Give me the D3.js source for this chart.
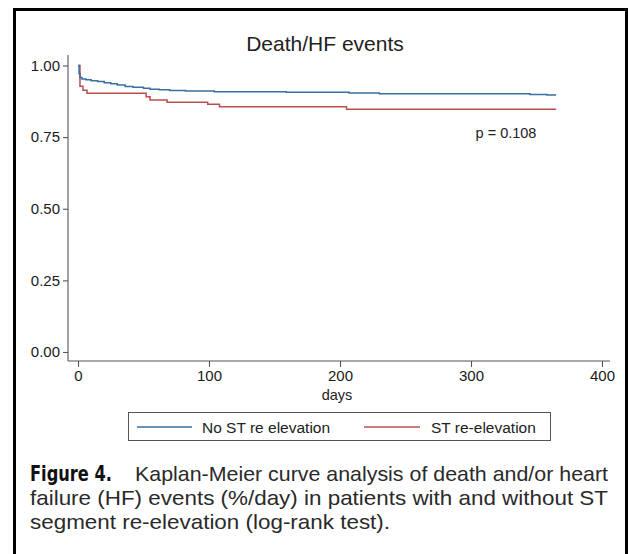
<!DOCTYPE html>
<html>
<head>
<meta charset="utf-8">
<script src="https://cdn.jsdelivr.net/npm/d3@7"></script>
<style>
  body { margin: 0; background: #fff; }
  svg { display: block; }
</style>
</head>
<body>
<div id="body"></div>
<script>
// Kaplan-Meier survival estimates
var blueDays = [0, 0.8, 1.5, 3, 6, 10, 15, 20, 25, 30, 36, 42, 50, 55, 62, 70, 82, 104, 159, 207, 230, 345, 358, 365];
var blueSurv = [1.0, 0.972, 0.958, 0.953, 0.950, 0.947, 0.944, 0.940, 0.936, 0.932, 0.927, 0.924, 0.921, 0.917, 0.915, 0.913, 0.911, 0.9086, 0.9065, 0.904, 0.9016, 0.899, 0.897, 0.897];
var redDays = [0, 1.5, 3.8, 6.9, 52, 55, 68, 99, 108, 205, 365];
var redSurv = [1.0, 0.928, 0.914, 0.903, 0.891, 0.880, 0.872, 0.865, 0.856, 0.847, 0.847];
var seriesNames = ['No ST re elevation', 'ST re-elevation'];
var xTicks = [0, 100, 200, 300, 400];
var yTicks = [0, 0.25, 0.5, 0.75, 1];
var yTickLabels = ['0.00', '0.25', '0.50', '0.75', '1.00'];

var W = 628, H = 554;
var blue = '#3a6f9f', red = '#b9504f', axisCol = '#555';
var font = '"Liberation Sans", Arial, Helvetica, sans-serif';

var svg = d3.select('#body').append('svg')
    .attr('width', W)
    .attr('height', H);

// outer frame (open at the bottom)
svg.append('path')
    .attr('d', 'M14.5,554 L14.5,9.5 L626.5,9.5 L626.5,554')
    .attr('fill', 'none')
    .attr('stroke', '#000')
    .attr('stroke-width', 3);

var x = d3.scaleLinear().domain([0, 400]).range([78, 602]);
var y = d3.scaleLinear().domain([0, 1]).range([352, 65.5]);

// title
svg.append('text')
    .attr('x', 325).attr('y', 50.5)
    .attr('text-anchor', 'middle')
    .attr('font-family', font)
    .attr('font-size', 21)
    .attr('fill', '#222')
    .text('Death/HF events');

// y axis
var yAxis = svg.append('g')
    .attr('transform', 'translate(68,0)')
    .call(d3.axisLeft(y).tickValues(yTicks)
      .tickFormat(function (d, i) { return yTickLabels[i]; })
      .tickSize(5).tickPadding(3));
yAxis.select('.domain').remove();
yAxis.append('line')
    .attr('x1', 0).attr('x2', 0).attr('y1', 55).attr('y2', 361);

// x axis
var xAxis = svg.append('g')
    .attr('transform', 'translate(0,361)')
    .call(d3.axisBottom(x).tickValues(xTicks).tickSize(6).tickPadding(3));
xAxis.select('.domain').remove();
xAxis.append('line')
    .attr('x1', 68).attr('x2', 610).attr('y1', 0).attr('y2', 0);

svg.selectAll('.tick line, g > line')
    .attr('stroke', axisCol).attr('stroke-width', 1.1);
svg.selectAll('.tick text')
    .attr('font-family', font)
    .attr('font-size', 15)
    .attr('fill', '#1a1a1a');

svg.append('text')
    .attr('x', 337).attr('y', 400)
    .attr('text-anchor', 'middle')
    .attr('font-family', font)
    .attr('font-size', 14.5)
    .attr('fill', '#222')
    .text('days');

// survival curves
var line = d3.line()
    .x(function (d) { return x(d[0]); })
    .y(function (d) { return y(d[1]); })
    .curve(d3.curveStepAfter);

var blueData = blueDays.map(function (d, i) { return [d, blueSurv[i]]; });
var redData = redDays.map(function (d, i) { return [d, redSurv[i]]; });

svg.append('path')
    .datum(redData)
    .attr('d', line)
    .attr('fill', 'none')
    .attr('stroke', red)
    .attr('stroke-width', 1.5);

svg.append('path')
    .datum(blueData)
    .attr('d', line)
    .attr('fill', 'none')
    .attr('stroke', blue)
    .attr('stroke-width', 1.5);

svg.append('text')
    .attr('x', 506).attr('y', 138)
    .attr('text-anchor', 'middle')
    .attr('font-family', font)
    .attr('font-size', 14.5)
    .attr('fill', '#222')
    .text('p = 0.108');

// legend
var legend = svg.append('g');
legend.append('rect')
    .attr('x', 128.5).attr('y', 412.5)
    .attr('width', 422).attr('height', 28)
    .attr('fill', '#fff')
    .attr('stroke', axisCol)
    .attr('stroke-width', 1);
[[137, 192, 202, blue], [364, 420, 431, red]].forEach(function (l, i) {
  legend.append('line')
      .attr('x1', l[0]).attr('x2', l[1])
      .attr('y1', 427).attr('y2', 427)
      .attr('stroke', l[3]).attr('stroke-width', 1.5);
  legend.append('text')
      .attr('x', l[2]).attr('y', 432.5)
      .attr('font-family', font)
      .attr('font-size', 15.5)
      .attr('fill', '#222')
      .text(seriesNames[i]);
});

// caption
svg.append('text')
    .attr('x', 30).attr('y', 481)
    .attr('font-family', '"Liberation Sans Narrow", "DejaVu Sans Condensed", sans-serif')
    .attr('font-weight', 'bold')
    .attr('font-size', 21)
    .attr('fill', '#111')
    .attr('textLength', 82)
    .attr('lengthAdjust', 'spacingAndGlyphs')
    .text('Figure 4.');

var capLines = [
  { x: 135, y: 481, w: 473, t: 'Kaplan-Meier curve analysis of death and/or heart' },
  { x: 30, y: 505, w: 578, t: 'failure (HF) events (%/day) in patients with and without ST' },
  { x: 30, y: 529, w: 360, t: 'segment re-elevation (log-rank test).' }
];
capLines.forEach(function (c) {
  svg.append('text')
      .attr('x', c.x).attr('y', c.y)
      .attr('font-family', font)
      .attr('font-size', 21)
      .attr('fill', '#2a2a2a')
      .attr('textLength', c.w)
      .attr('lengthAdjust', 'spacingAndGlyphs')
      .text(c.t);
});
</script>
</body>
</html>
